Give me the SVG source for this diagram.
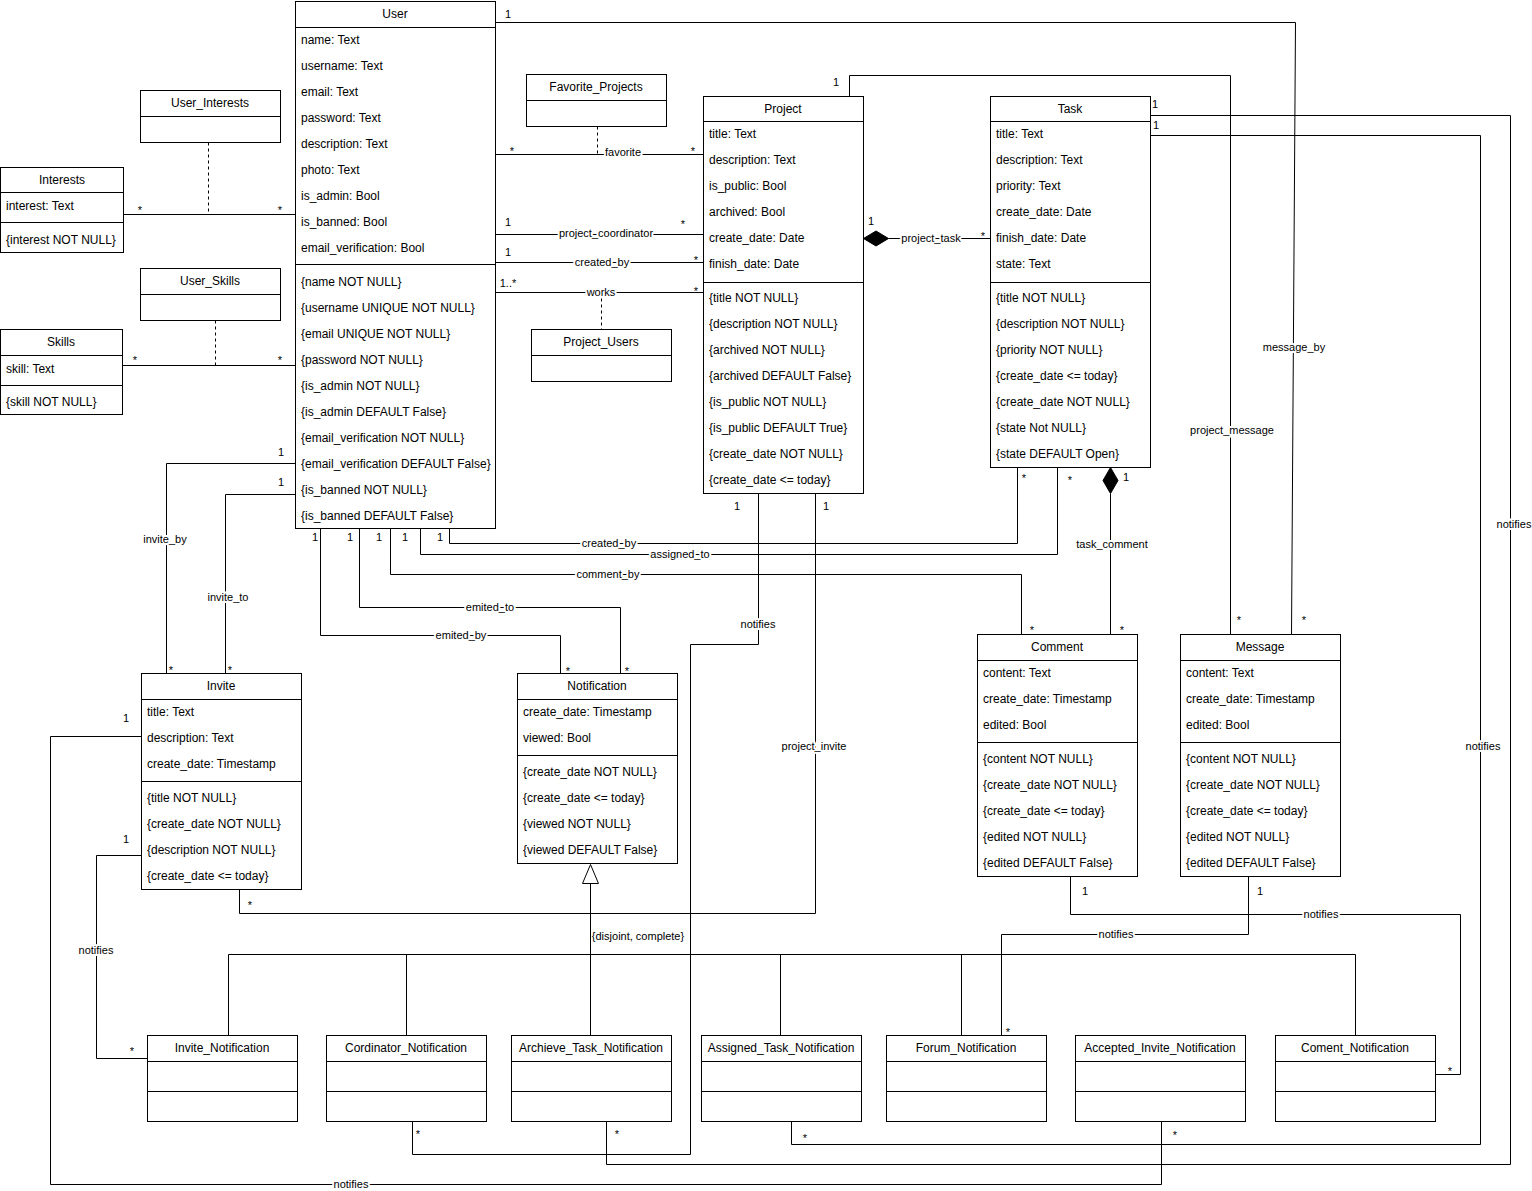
<svg xmlns="http://www.w3.org/2000/svg" width="1532" height="1191" viewBox="0 0 1532 1191">
<style>
text{font-family:"Liberation Sans",Arial,sans-serif;font-size:12px;fill:#000;dominant-baseline:central}
.n rect{fill:#fff;stroke:#000;stroke-width:1}
.n line{stroke:#000;stroke-width:1}
.h{text-anchor:middle}
.c path,.c line{fill:none;stroke:#000;stroke-width:1}
.c .d{stroke-dasharray:3 3}
.l{font-size:11px;text-anchor:middle;paint-order:stroke;stroke:#fff;stroke-width:4px;stroke-linejoin:round}
.m{font-size:11px;text-anchor:middle}
.s{font-size:11px;text-anchor:middle}
</style>
<rect width="1532" height="1191" fill="#fff"/>
<g class="c" id="connectors">
<path d="M123.5,214.5H295.5"/><path class="d" d="M208.5,142.5V214.5"/>
<path d="M122.5,365.5H295.5"/><path class="d" d="M215.5,320.5V365.5"/>
<path d="M495.5,154.5H703.5"/><path class="d" d="M597.5,126.5V154.5"/>
<path d="M495.5,234.5H703.5"/>
<path d="M495.5,262.5H703.5"/>
<path d="M495.5,292.5H703.5"/><path class="d" d="M601.5,292.5V329.5"/>
<path d="M495.5,22.5H1295.5L1291.5,634.5"/>
<path d="M849.5,96.5V75.5H1230.5V634.5"/>
<path d="M888.5,238.5H990.5"/>
<polygon points="863.5,238.5 876,231 888.5,238.5 876,246" fill="#000" stroke="#000"/>
<path d="M1150.5,115.5H1510.5V1164.5H606.5V1121.5"/>
<path d="M1150.5,135.5H1480.5V1144.5H791.5V1121.5"/>
<path d="M1110.5,493.5V634.5"/>
<polygon points="1110.5,467.5 1118,480.5 1110.5,493.5 1103,480.5" fill="#000" stroke="#000"/>
<path d="M449.5,528.5V543.5H1017.5V467.5"/>
<path d="M420.5,528.5V554.5H1057.5V467.5"/>
<path d="M390.5,528.5V574.5H1021.5V634.5"/>
<path d="M359.5,528.5V607.5H620.5V673.5"/>
<path d="M320.5,528.5V635.5H560.5V673.5"/>
<path d="M295.5,463.5H166.5V673.5"/>
<path d="M295.5,494.5H225.5V673.5"/>
<path d="M815.5,493.5V913.5H239.5V889.5"/>
<path d="M758.5,493.5V644.5H690.5V1154.5H412.5V1121.5"/>
<path d="M141.5,855.5H96.5V1058.5H147.5"/>
<path d="M141.5,736.5H50.5V1184.5H1161.5V1121.5"/>
<path d="M1070.5,876.5V914.5H1460.5V1074.5H1435.5"/>
<path d="M1248.5,876.5V934.5H1001.5V1035.5"/>
<path d="M590.5,883.5V1035.5"/>
<path d="M228.5,954.5H1355.5"/>
<path d="M228.5,954.5V1035.5M406.5,954.5V1035.5M780.5,954.5V1035.5M961.5,954.5V1035.5M1355.5,954.5V1035.5"/>
<polygon points="590.5,864.5 598.5,883.5 582.5,883.5" fill="#fff" stroke="#000"/>
<text class="l" x="623" y="152">favorite</text>
<text class="l" x="606" y="233">project_coordinator</text>
<text class="l" x="602" y="262">created_by</text>
<text class="l" x="601" y="292">works</text>
<text class="l" x="931" y="238">project_task</text>
<text class="l" x="1294" y="347">message_by</text>
<text class="l" x="1232" y="430">project_message</text>
<text class="l" x="1514" y="524">notifies</text>
<text class="l" x="1483" y="746">notifies</text>
<text class="l" x="1112" y="544">task_comment</text>
<text class="l" x="609" y="543">created_by</text>
<text class="l" x="680" y="554">assigned_to</text>
<text class="l" x="608" y="574">comment_by</text>
<text class="l" x="490" y="607">emited_to</text>
<text class="l" x="461" y="635">emited_by</text>
<text class="l" x="165" y="539">invite_by</text>
<text class="l" x="228" y="597">invite_to</text>
<text class="l" x="758" y="624">notifies</text>
<text class="l" x="814" y="746">project_invite</text>
<text class="l" x="96" y="950">notifies</text>
<text class="m" x="638" y="936">{disjoint, complete}</text>
<text class="l" x="1321" y="914">notifies</text>
<text class="l" x="1116" y="934">notifies</text>
<text class="l" x="351" y="1184">notifies</text>
<text class="s" x="140" y="210">*</text><text class="s" x="280" y="210">*</text>
<text class="s" x="135" y="360">*</text><text class="s" x="280" y="360">*</text>
<text class="m" x="508" y="14">1</text>
<text class="s" x="512" y="151">*</text><text class="s" x="693" y="151">*</text>
<text class="m" x="508" y="222">1</text><text class="s" x="683" y="224">*</text>
<text class="m" x="508" y="252">1</text><text class="s" x="696" y="260">*</text>
<text class="m" x="508" y="283">1..*</text><text class="s" x="696" y="291">*</text>
<text class="m" x="836" y="82">1</text>
<text class="m" x="871" y="221">1</text><text class="s" x="983" y="236">*</text>
<text class="m" x="1155" y="104">1</text><text class="m" x="1156" y="125">1</text>
<text class="s" x="1024" y="478">*</text><text class="s" x="1070" y="480">*</text><text class="m" x="1126" y="477">1</text>
<text class="m" x="315" y="537">1</text><text class="m" x="350" y="537">1</text><text class="m" x="379" y="537">1</text><text class="m" x="405" y="537">1</text><text class="m" x="440" y="537">1</text>
<text class="m" x="281" y="452">1</text><text class="m" x="281" y="482">1</text>
<text class="s" x="171" y="670">*</text><text class="s" x="230" y="670">*</text>
<text class="s" x="568" y="671">*</text><text class="s" x="627" y="671">*</text>
<text class="m" x="737" y="506">1</text><text class="m" x="826" y="506">1</text>
<text class="s" x="1032" y="630">*</text><text class="s" x="1122" y="630">*</text>
<text class="s" x="1239" y="620">*</text><text class="s" x="1304" y="620">*</text>
<text class="m" x="126" y="718">1</text><text class="m" x="126" y="839">1</text>
<text class="s" x="250" y="905">*</text>
<text class="s" x="132" y="1051">*</text>
<text class="s" x="418" y="1134">*</text><text class="s" x="617" y="1134">*</text>
<text class="s" x="805" y="1138">*</text><text class="s" x="1008" y="1032">*</text>
<text class="s" x="1175" y="1135">*</text><text class="s" x="1450" y="1071">*</text>
<text class="m" x="1085" y="891">1</text><text class="m" x="1260" y="891">1</text>
</g>
<g class="n" id="User">
<rect x="295.5" y="1.5" width="200" height="527"/>
<line x1="295.5" y1="27.5" x2="495.5" y2="27.5"/><line x1="295.5" y1="264.5" x2="495.5" y2="264.5"/>
<text class="h" x="395" y="14">User</text>
<text x="301" y="40">name: Text</text><text x="301" y="66">username: Text</text><text x="301" y="92">email: Text</text><text x="301" y="118">password: Text</text><text x="301" y="144">description: Text</text><text x="301" y="170">photo: Text</text><text x="301" y="196">is_admin: Bool</text><text x="301" y="222">is_banned: Bool</text><text x="301" y="248">email_verification: Bool</text>
<text x="301" y="282">{name NOT NULL}</text><text x="301" y="308">{username UNIQUE NOT NULL}</text><text x="301" y="334">{email UNIQUE NOT NULL}</text><text x="301" y="360">{password NOT NULL}</text><text x="301" y="386">{is_admin NOT NULL}</text><text x="301" y="412">{is_admin DEFAULT False}</text><text x="301" y="438">{email_verification NOT NULL}</text><text x="301" y="464">{email_verification DEFAULT False}</text><text x="301" y="490">{is_banned NOT NULL}</text><text x="301" y="516">{is_banned DEFAULT False}</text>
</g>
<g class="n" id="Interests">
<rect x="0.5" y="167.5" width="123" height="85"/>
<line x1="0.5" y1="192.5" x2="123.5" y2="192.5"/><line x1="0.5" y1="222.5" x2="123.5" y2="222.5"/>
<text class="h" x="62" y="180">Interests</text><text x="6" y="206">interest: Text</text><text x="6" y="240">{interest NOT NULL}</text>
</g>
<g class="n" id="Skills">
<rect x="0.5" y="329.5" width="122" height="85"/>
<line x1="0.5" y1="355.5" x2="122.5" y2="355.5"/><line x1="0.5" y1="385.5" x2="122.5" y2="385.5"/>
<text class="h" x="61" y="342">Skills</text><text x="6" y="369">skill: Text</text><text x="6" y="402">{skill NOT NULL}</text>
</g>
<g class="n" id="User_Interests">
<rect x="140.5" y="90.5" width="140" height="52"/><line x1="140.5" y1="116.5" x2="280.5" y2="116.5"/>
<text class="h" x="210" y="103">User_Interests</text>
</g>
<g class="n" id="User_Skills">
<rect x="140.5" y="268.5" width="140" height="52"/><line x1="140.5" y1="294.5" x2="280.5" y2="294.5"/>
<text class="h" x="210" y="281">User_Skills</text>
</g>
<g class="n" id="Favorite_Projects">
<rect x="526.5" y="74.5" width="140" height="52"/><line x1="526.5" y1="100.5" x2="666.5" y2="100.5"/>
<text class="h" x="596" y="87">Favorite_Projects</text>
</g>
<g class="n" id="Project_Users">
<rect x="531.5" y="329.5" width="140" height="52"/><line x1="531.5" y1="355.5" x2="671.5" y2="355.5"/>
<text class="h" x="601" y="342">Project_Users</text>
</g>
<g class="n" id="Project">
<rect x="703.5" y="96.5" width="160" height="397"/>
<line x1="703.5" y1="121.5" x2="863.5" y2="121.5"/><line x1="703.5" y1="282.5" x2="863.5" y2="282.5"/>
<text class="h" x="783" y="109">Project</text>
<text x="709" y="134">title: Text</text><text x="709" y="160">description: Text</text><text x="709" y="186">is_public: Bool</text><text x="709" y="212">archived: Bool</text><text x="709" y="238">create_date: Date</text><text x="709" y="264">finish_date: Date</text>
<text x="709" y="298">{title NOT NULL}</text><text x="709" y="324">{description NOT NULL}</text><text x="709" y="350">{archived NOT NULL}</text><text x="709" y="376">{archived DEFAULT False}</text><text x="709" y="402">{is_public NOT NULL}</text><text x="709" y="428">{is_public DEFAULT True}</text><text x="709" y="454">{create_date NOT NULL}</text><text x="709" y="480">{create_date &lt;= today}</text>
</g>
<g class="n" id="Task">
<rect x="990.5" y="96.5" width="160" height="371"/>
<line x1="990.5" y1="121.5" x2="1150.5" y2="121.5"/><line x1="990.5" y1="282.5" x2="1150.5" y2="282.5"/>
<text class="h" x="1070" y="109">Task</text>
<text x="996" y="134">title: Text</text><text x="996" y="160">description: Text</text><text x="996" y="186">priority: Text</text><text x="996" y="212">create_date: Date</text><text x="996" y="238">finish_date: Date</text><text x="996" y="264">state: Text</text>
<text x="996" y="298">{title NOT NULL}</text><text x="996" y="324">{description NOT NULL}</text><text x="996" y="350">{priority NOT NULL}</text><text x="996" y="376">{create_date &lt;= today}</text><text x="996" y="402">{create_date NOT NULL}</text><text x="996" y="428">{state Not NULL}</text><text x="996" y="454">{state DEFAULT Open}</text>
</g>
<g class="n" id="Comment">
<rect x="977.5" y="634.5" width="160" height="242"/>
<line x1="977.5" y1="660.5" x2="1137.5" y2="660.5"/><line x1="977.5" y1="742.5" x2="1137.5" y2="742.5"/>
<text class="h" x="1057" y="647">Comment</text>
<text x="983" y="673">content: Text</text><text x="983" y="699">create_date: Timestamp</text><text x="983" y="725">edited: Bool</text>
<text x="983" y="759">{content NOT NULL}</text><text x="983" y="785">{create_date NOT NULL}</text><text x="983" y="811">{create_date &lt;= today}</text><text x="983" y="837">{edited NOT NULL}</text><text x="983" y="863">{edited DEFAULT False}</text>
</g>
<g class="n" id="Message">
<rect x="1180.5" y="634.5" width="160" height="242"/>
<line x1="1180.5" y1="660.5" x2="1340.5" y2="660.5"/><line x1="1180.5" y1="742.5" x2="1340.5" y2="742.5"/>
<text class="h" x="1260" y="647">Message</text>
<text x="1186" y="673">content: Text</text><text x="1186" y="699">create_date: Timestamp</text><text x="1186" y="725">edited: Bool</text>
<text x="1186" y="759">{content NOT NULL}</text><text x="1186" y="785">{create_date NOT NULL}</text><text x="1186" y="811">{create_date &lt;= today}</text><text x="1186" y="837">{edited NOT NULL}</text><text x="1186" y="863">{edited DEFAULT False}</text>
</g>
<g class="n" id="Invite">
<rect x="141.5" y="673.5" width="160" height="216"/>
<line x1="141.5" y1="699.5" x2="301.5" y2="699.5"/><line x1="141.5" y1="781.5" x2="301.5" y2="781.5"/>
<text class="h" x="221" y="686">Invite</text>
<text x="147" y="712">title: Text</text><text x="147" y="738">description: Text</text><text x="147" y="764">create_date: Timestamp</text>
<text x="147" y="798">{title NOT NULL}</text><text x="147" y="824">{create_date NOT NULL}</text><text x="147" y="850">{description NOT NULL}</text><text x="147" y="876">{create_date &lt;= today}</text>
</g>
<g class="n" id="Notification">
<rect x="517.5" y="673.5" width="160" height="190"/>
<line x1="517.5" y1="699.5" x2="677.5" y2="699.5"/><line x1="517.5" y1="755.5" x2="677.5" y2="755.5"/>
<text class="h" x="597" y="686">Notification</text>
<text x="523" y="712">create_date: Timestamp</text><text x="523" y="738">viewed: Bool</text>
<text x="523" y="772">{create_date NOT NULL}</text><text x="523" y="798">{create_date &lt;= today}</text><text x="523" y="824">{viewed NOT NULL}</text><text x="523" y="850">{viewed DEFAULT False}</text>
</g>
<g class="n" id="Invite_Notification">
<rect x="147.5" y="1035.5" width="150" height="86"/><line x1="147.5" y1="1061.5" x2="297.5" y2="1061.5"/><line x1="147.5" y1="1091.5" x2="297.5" y2="1091.5"/>
<text class="h" x="222" y="1048">Invite_Notification</text>
</g>
<g class="n" id="Cordinator_Notification">
<rect x="326.5" y="1035.5" width="160" height="86"/><line x1="326.5" y1="1061.5" x2="486.5" y2="1061.5"/><line x1="326.5" y1="1091.5" x2="486.5" y2="1091.5"/>
<text class="h" x="406" y="1048">Cordinator_Notification</text>
</g>
<g class="n" id="Archieve_Task_Notification">
<rect x="511.5" y="1035.5" width="160" height="86"/><line x1="511.5" y1="1061.5" x2="671.5" y2="1061.5"/><line x1="511.5" y1="1091.5" x2="671.5" y2="1091.5"/>
<text class="h" x="591" y="1048">Archieve_Task_Notification</text>
</g>
<g class="n" id="Assigned_Task_Notification">
<rect x="701.5" y="1035.5" width="160" height="86"/><line x1="701.5" y1="1061.5" x2="861.5" y2="1061.5"/><line x1="701.5" y1="1091.5" x2="861.5" y2="1091.5"/>
<text class="h" x="781" y="1048">Assigned_Task_Notification</text>
</g>
<g class="n" id="Forum_Notification">
<rect x="886.5" y="1035.5" width="160" height="86"/><line x1="886.5" y1="1061.5" x2="1046.5" y2="1061.5"/><line x1="886.5" y1="1091.5" x2="1046.5" y2="1091.5"/>
<text class="h" x="966" y="1048">Forum_Notification</text>
</g>
<g class="n" id="Accepted_Invite_Notification">
<rect x="1075.5" y="1035.5" width="170" height="86"/><line x1="1075.5" y1="1061.5" x2="1245.5" y2="1061.5"/><line x1="1075.5" y1="1091.5" x2="1245.5" y2="1091.5"/>
<text class="h" x="1160" y="1048">Accepted_Invite_Notification</text>
</g>
<g class="n" id="Coment_Notification">
<rect x="1275.5" y="1035.5" width="160" height="86"/><line x1="1275.5" y1="1061.5" x2="1435.5" y2="1061.5"/><line x1="1275.5" y1="1091.5" x2="1435.5" y2="1091.5"/>
<text class="h" x="1355" y="1048">Coment_Notification</text>
</g>
</svg>
